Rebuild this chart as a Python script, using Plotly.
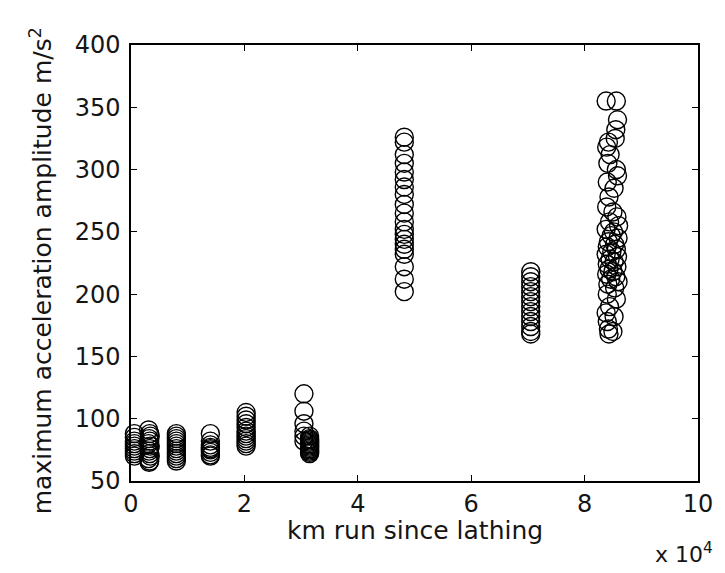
import plotly.graph_objects as go

# Measurement campaigns: distance run since lathing (km) and acceleration amplitude (m/s^2)
km_a = [600] * 9
acc_a = [88, 85, 82, 80, 78, 76, 74, 72, 70]

km_b = [3100, 3300, 3400, 3200, 3300, 3100, 3400, 3300, 3200, 3300, 3400, 3100, 3300, 3200]
acc_b = [91, 88, 86, 84, 82, 80, 78, 76, 74, 72, 70, 68, 66, 65]

km_c = [8000] * 12
acc_c = [88, 86, 84, 82, 80, 78, 76, 74, 72, 70, 68, 66]

km_d = [14000] * 9
acc_d = [88, 82, 79, 77, 76, 75, 73, 71, 70]

km_e = [20300] * 12
acc_e = [105, 102, 99, 96, 93, 90, 88, 86, 84, 82, 80, 78]

km_f1 = [30500] * 6
acc_f1 = [120, 106, 96, 90, 86, 82]

km_f2 = [31500] * 14
acc_f2 = [86, 84, 83, 82, 81, 80, 79, 78, 77, 76, 75, 74, 73, 72]

km_g = [48200] * 20
acc_g = [326, 322, 312, 305, 298, 292, 286, 280, 272, 265, 258, 252, 248, 244,
         240, 236, 232, 222, 212, 202]

km_h = [70500] * 14
acc_h = [218, 214, 210, 206, 202, 198, 194, 190, 186, 182, 178, 174, 170, 168]

km_i = [83800, 85600, 85800, 85500, 85400, 84200, 83900, 84500, 84100, 85600,
        85800, 84000, 85200, 84300, 83900, 85000, 85700, 84400, 86000, 83800,
        85100, 84700, 85900, 84200, 85300, 84000, 85600, 84800, 83800, 85800,
        84500, 85200, 84000, 85700, 84300, 85000, 83900, 85500, 84600, 85900,
        84100, 85300, 84000, 85600, 84400, 83800, 85200, 84000, 84200, 85000,
        84300]
acc_i = [355, 355, 340, 332, 325, 322, 318, 312, 305, 300,
         295, 290, 285, 278, 270, 266, 262, 258, 255, 252,
         250, 247, 245, 242, 240, 238, 236, 234, 232, 230,
         228, 226, 224, 222, 220, 218, 216, 214, 212, 210,
         208, 205, 200, 196, 190, 185, 182, 178, 172, 170,
         168]

km = km_a + km_b + km_c + km_d + km_e + km_f1 + km_f2 + km_g + km_h + km_i
acc = acc_a + acc_b + acc_c + acc_d + acc_e + acc_f1 + acc_f2 + acc_g + acc_h + acc_i

x_ticks = [0, 20000, 40000, 60000, 80000, 100000]
x_labels = ["0", "2", "4", "6", "8", "10"]
y_ticks = [50, 100, 150, 200, 250, 300, 350, 400]

family = "DejaVu Sans, Liberation Sans, sans-serif"
tick_font = dict(family=family, size=24, color="#151515")
title_font = dict(family=family, size=25, color="#151515")
exp_font = dict(family=family, size=22, color="#151515")

fig = go.Figure(
    go.Scatter(
        x=km,
        y=acc,
        mode="markers",
        marker=dict(symbol="circle-open", size=18, color="black",
                    line=dict(width=1.4, color="black")),
        cliponaxis=False,
        showlegend=False,
    )
)

axis_common = dict(
    showline=True, linecolor="black", linewidth=1.5, mirror="ticks",
    ticks="inside", ticklen=6, tickwidth=1, tickcolor="black",
    showgrid=False, zeroline=False, tickfont=tick_font,
)

fig.update_xaxes(range=[0, 100000], tickvals=x_ticks, ticktext=x_labels, **axis_common)
fig.update_yaxes(range=[50, 400], tickvals=y_ticks, ticklabelstandoff=4, **axis_common)

# axis titles and exponent label
fig.add_annotation(
    text="km run since lathing", xref="paper", yref="paper", x=0.5, y=-0.114,
    xanchor="center", yanchor="middle", showarrow=False, font=title_font,
)
fig.add_annotation(
    text="maximum acceleration amplitude m/s<sup>2</sup>", xref="paper", yref="paper",
    x=-0.158, y=0.482, xanchor="center", yanchor="middle", textangle=-90,
    showarrow=False, font=title_font,
)
fig.add_annotation(
    text="x 10<sup>4</sup>", xref="paper", yref="paper", x=1.03, y=-0.165,
    xanchor="right", yanchor="middle", showarrow=False, font=exp_font,
)

fig.update_layout(
    width=725, height=573,
    margin=dict(l=131, r=17, t=45, b=92),
    paper_bgcolor="white", plot_bgcolor="white",
    font=tick_font,
)

fig.write_html("out.html")
